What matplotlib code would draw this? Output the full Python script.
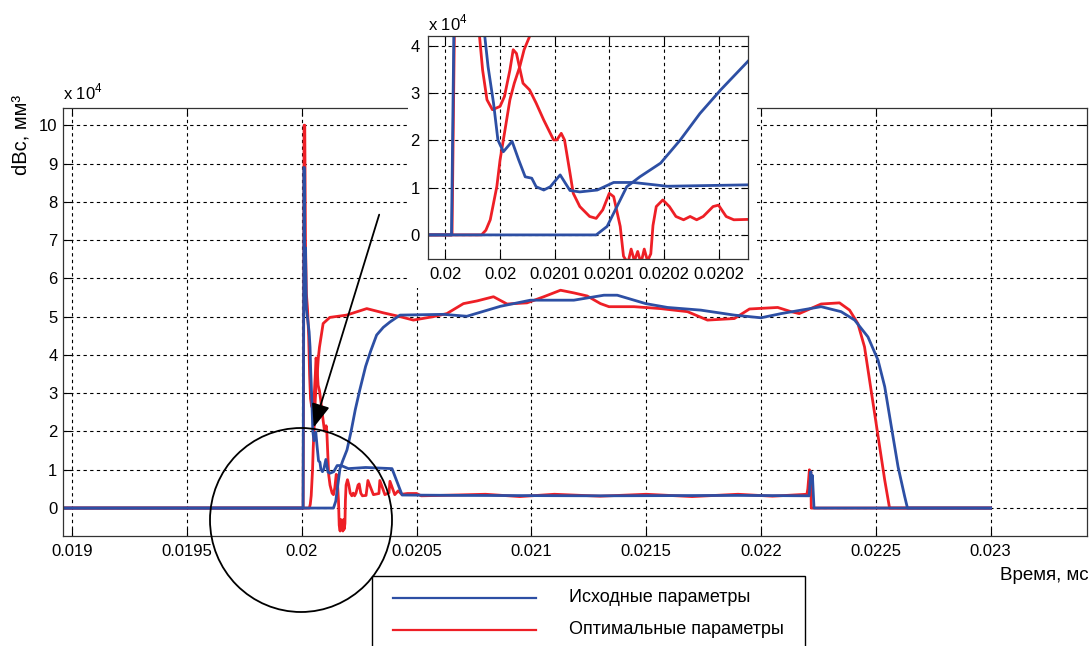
import numpy as np
import matplotlib.pyplot as plt
from matplotlib.patches import Rectangle, Ellipse, FancyArrowPatch
from matplotlib.lines import Line2D

plt.rcParams['font.family'] = ['Liberation Sans', 'DejaVu Sans']
plt.rcParams['mathtext.fontset'] = 'custom'
plt.rcParams['mathtext.rm'] = 'Liberation Sans'

BLUE = '#2d4fa4'
RED = '#ee1f26'

# values in units of 10^4 mm^3, time in ms
# Исходные параметры: fast peak
t_blue_a = [0.01896, 0.0200055, 0.02001, 0.020013, 0.020016, 0.02002, 0.020026, 0.020032,
            0.020036, 0.020039, 0.020044, 0.020048, 0.020053, 0.020061, 0.020067, 0.020073,
            0.020079, 0.020083, 0.02009, 0.020096, 0.020105, 0.020114, 0.020123, 0.020139,
            0.020154, 0.020172, 0.020203, 0.020278, 0.020393, 0.020437, 0.0207, 0.0213,
            0.0219, 0.02221, 0.022217, 0.02222, 0.022224, 0.022231, 0.023]
v_blue_a = [0, 0, 8.9, 6.2, 6.8, 5.2, 4.9, 4.6,
            4.2, 3.56, 2.79, 2.01, 1.76, 1.98, 1.59, 1.23,
            1.20, 1.02, 0.95, 1.02, 1.27, 0.94, 0.91, 0.95,
            1.11, 1.11, 1.03, 1.06, 1.03, 0.34, 0.33, 0.32,
            0.33, 0.32, 0.95, 0.7, 0.85, 0, 0]

# Исходные параметры: slow component
t_blue_b = [0.01896, 0.020138, 0.020148, 0.020157, 0.020166, 0.020178, 0.020197, 0.020215,
            0.020233, 0.020252, 0.020278, 0.0203, 0.020326, 0.020355, 0.020384, 0.020428,
            0.020617, 0.020719, 0.020865, 0.020996, 0.021185, 0.021316, 0.021374, 0.021498,
            0.021593, 0.021738, 0.021884, 0.022, 0.022088, 0.022175, 0.022262, 0.022349,
            0.022408, 0.022466, 0.02251, 0.022539, 0.022568, 0.022597, 0.022626, 0.022638, 0.023]
v_blue_b = [0, 0, 0.18, 0.6, 1.02, 1.23, 1.52, 2.01,
            2.57, 3.07, 3.70, 4.1, 4.52, 4.72, 4.86, 5.04,
            5.06, 5.01, 5.27, 5.43, 5.43, 5.56, 5.56, 5.34,
            5.24, 5.17, 5.04, 4.97, 5.08, 5.17, 5.26, 5.13,
            4.91, 4.47, 3.86, 3.17, 2.12, 1.08, 0.30, 0, 0]

# Оптимальные параметры: fast peak
t_red_a = [0.01896, 0.020006, 0.0200085, 0.02001, 0.020013, 0.020016, 0.02002, 0.020025,
           0.02003, 0.020034, 0.020038, 0.020043, 0.02005, 0.020054, 0.020059, 0.020062,
           0.020065, 0.020071, 0.020077, 0.020083, 0.02009, 0.020099, 0.020102, 0.020106,
           0.020109, 0.020114, 0.020117, 0.020123, 0.020132, 0.020138, 0.020144, 0.02015,
           0.020154, 0.02016, 0.020163, 0.020167, 0.02017, 0.020173, 0.020176, 0.020179,
           0.020182, 0.020185, 0.020188, 0.02019, 0.020193, 0.020199, 0.020205, 0.020211,
           0.020218, 0.020224, 0.02023, 0.020236, 0.020245, 0.02025, 0.020257, 0.020264,
           0.02028, 0.020288, 0.020312, 0.020336, 0.02034, 0.020362, 0.02038, 0.020384,
           0.020405, 0.02042, 0.020435, 0.02046, 0.0205, 0.02052, 0.0206, 0.0208,
           0.02095, 0.0211, 0.0213, 0.0215, 0.0217, 0.0219, 0.02205, 0.0222,
           0.022204, 0.022211, 0.022214, 0.022217, 0.022219, 0.023]
v_red_a = [0, 0, 5.0, 10.0, 10.0, 7.0, 5.6, 5.2,
           4.5, 3.49, 2.86, 2.65, 2.72, 2.93, 3.49, 3.92,
           3.84, 3.21, 3.07, 2.79, 2.43, 2.01, 2.01, 2.15,
           2.01, 1.31, 0.88, 0.6, 0.39, 0.35, 0.53, 0.88,
           0.81, 0.18, -0.45, -0.6, -0.3, -0.55, -0.35, -0.6,
           -0.3, -0.55, -0.4, 0.2, 0.6, 0.74, 0.6, 0.39,
           0.32, 0.39, 0.32, 0.39, 0.6, 0.63, 0.39, 0.32,
           0.33, 0.72, 0.35, 0.38, 0.72, 0.35, 0.40, 0.70,
           0.35, 0.45, 0.36, 0.38, 0.38, 0.32, 0.33, 0.36,
           0.30, 0.36, 0.31, 0.36, 0.30, 0.36, 0.31, 0.36,
           0.5, 1.0, 0.8, 0.95, 0, 0]

# Оптимальные параметры: slow component
t_red_b = [0.01896, 0.020033, 0.020037, 0.020041, 0.020044, 0.020047, 0.02005, 0.020054,
           0.020059, 0.020063, 0.020068, 0.020072, 0.020077, 0.020093, 0.020122, 0.020195,
           0.020283, 0.020355, 0.020428, 0.020486, 0.020573, 0.020632, 0.020704, 0.020763,
           0.020835, 0.020894, 0.020981, 0.021054, 0.021127, 0.021185, 0.021243, 0.021301,
           0.021338, 0.021447, 0.021563, 0.02168, 0.021767, 0.021884, 0.02195, 0.022073,
           0.022131, 0.022167, 0.022262, 0.022342, 0.022386, 0.022422, 0.022451, 0.022473,
           0.022495, 0.022517, 0.022539, 0.02256, 0.023]
v_red_b = [0, 0, 0.1, 0.32, 0.67, 1.02, 1.59, 2.15,
           2.86, 3.21, 3.56, 3.92, 4.2, 4.82, 4.98, 5.04,
           5.21, 5.1, 5.0, 4.91, 5.0, 5.08, 5.34, 5.41,
           5.52, 5.33, 5.36, 5.52, 5.69, 5.62, 5.54, 5.34,
           5.26, 5.26, 5.21, 5.13, 4.91, 4.95, 5.2, 5.24,
           5.13, 5.08, 5.33, 5.36, 5.17, 4.82, 4.21, 3.34,
           2.47, 1.6, 0.73, 0.0, 0]

main_xticks = [0.019, 0.0195, 0.02, 0.0205, 0.021, 0.0215, 0.022, 0.0225, 0.023]
main_xlabels = ['0.019', '0.0195', '0.02', '0.0205', '0.021', '0.0215', '0.022', '0.0225', '0.023']
main_yticks = list(range(0, 11))
inset_xticks = [0.02, 0.02005, 0.0201, 0.02015, 0.0202, 0.02025]
inset_xlabels = ['0.02', '0.02', '0.0201', '0.0201', '0.0202', '0.0202']
inset_yticks = [0, 1, 2, 3, 4]
legend_labels = ['Исходные параметры', 'Оптимальные параметры']

W, H = 1090, 646
fig = plt.figure(figsize=(W / 100, H / 100), dpi=100)


def fx(px):
    return px / W


def fy(py):
    return 1 - py / H


def draw_series(ax):
    ax.plot(t_red_a, v_red_a, color=RED, lw=2.0)
    ax.plot(t_red_b, v_red_b, color=RED, lw=2.0)
    ax.plot(t_blue_a, v_blue_a, color=BLUE, lw=2.0)
    ax.plot(t_blue_b, v_blue_b, color=BLUE, lw=2.0)


def style_axes(ax, size):
    ax.grid(True, color='black', linestyle=(0, (3, 3)), linewidth=0.8)
    ax.tick_params(direction='in', top=True, right=True, length=6, width=0.8,
                   labelsize=size, pad=6)
    for s in ax.spines.values():
        s.set_color('#333333')
        s.set_linewidth(0.9)


# main axes
ax = fig.add_axes([fx(63), fy(536), fx(1087) - fx(63), fy(108) - fy(536)], zorder=0)
draw_series(ax)
ax.set_xlim(0.01896, 0.02342)
ax.set_ylim(-0.73, 10.45)
ax.set_xticks(main_xticks)
ax.set_xticklabels(main_xlabels)
ax.set_yticks(main_yticks)
style_axes(ax, 12)
ax.tick_params(axis='y', pad=4)
ax.text(0, 1.012, r'x 10$^4$', transform=ax.transAxes, ha='left', va='bottom', fontsize=12)

fig.text(fx(21), fy(135), 'dBc, мм³', rotation=90, ha='center', va='center', fontsize=14.5)
fig.text(fx(1089), fy(576), 'Время, мс', ha='right', va='center', fontsize=13.5)

# white cover behind the inset
fig.add_artist(Rectangle((fx(408), fy(288)), fx(757) - fx(408), fy(0) - fy(288),
                         transform=fig.transFigure, facecolor='white', edgecolor='none',
                         zorder=1))

# inset
axi = fig.add_axes([fx(428), fy(259), fx(748) - fx(428), fy(36) - fy(259)], zorder=2)
draw_series(axi)
axi.set_xlim(0.019984, 0.020277)
axi.set_ylim(-0.51, 4.21)
axi.set_xticks(inset_xticks)
axi.set_xticklabels(inset_xlabels)
axi.set_yticks(inset_yticks)
style_axes(axi, 12)
axi.tick_params(length=5)
axi.text(0, 1.012, r'x 10$^4$', transform=axi.transAxes, ha='left', va='bottom', fontsize=12)

# circle and arrow
fig.add_artist(Ellipse((fx(301), fy(520)), fx(182), 184 / H, transform=fig.transFigure,
                       fill=False, edgecolor='black', lw=1.3, zorder=5))
fig.add_artist(FancyArrowPatch((fx(380), fy(212)), (fx(313), fy(430)),
                               transform=fig.transFigure, color='black', lw=1.3,
                               arrowstyle='-|>,head_length=0.9,head_width=0.35',
                               mutation_scale=16, zorder=5))

# legend box
fig.add_artist(Rectangle((fx(372), -0.02), fx(805) - fx(372), fy(576) + 0.02,
                         transform=fig.transFigure, facecolor='white', edgecolor='black',
                         lw=1.0, zorder=4))
for py, c, lab in [(598, BLUE, legend_labels[0]), (630, RED, legend_labels[1])]:
    fig.add_artist(Line2D([fx(393), fx(536)], [fy(py), fy(py)], color=c, lw=1.6,
                          transform=fig.transFigure, zorder=6))
    fig.text(fx(569), fy(py), lab, ha='left', va='center', fontsize=13, zorder=6)

fig.savefig('out.png', dpi=100)
